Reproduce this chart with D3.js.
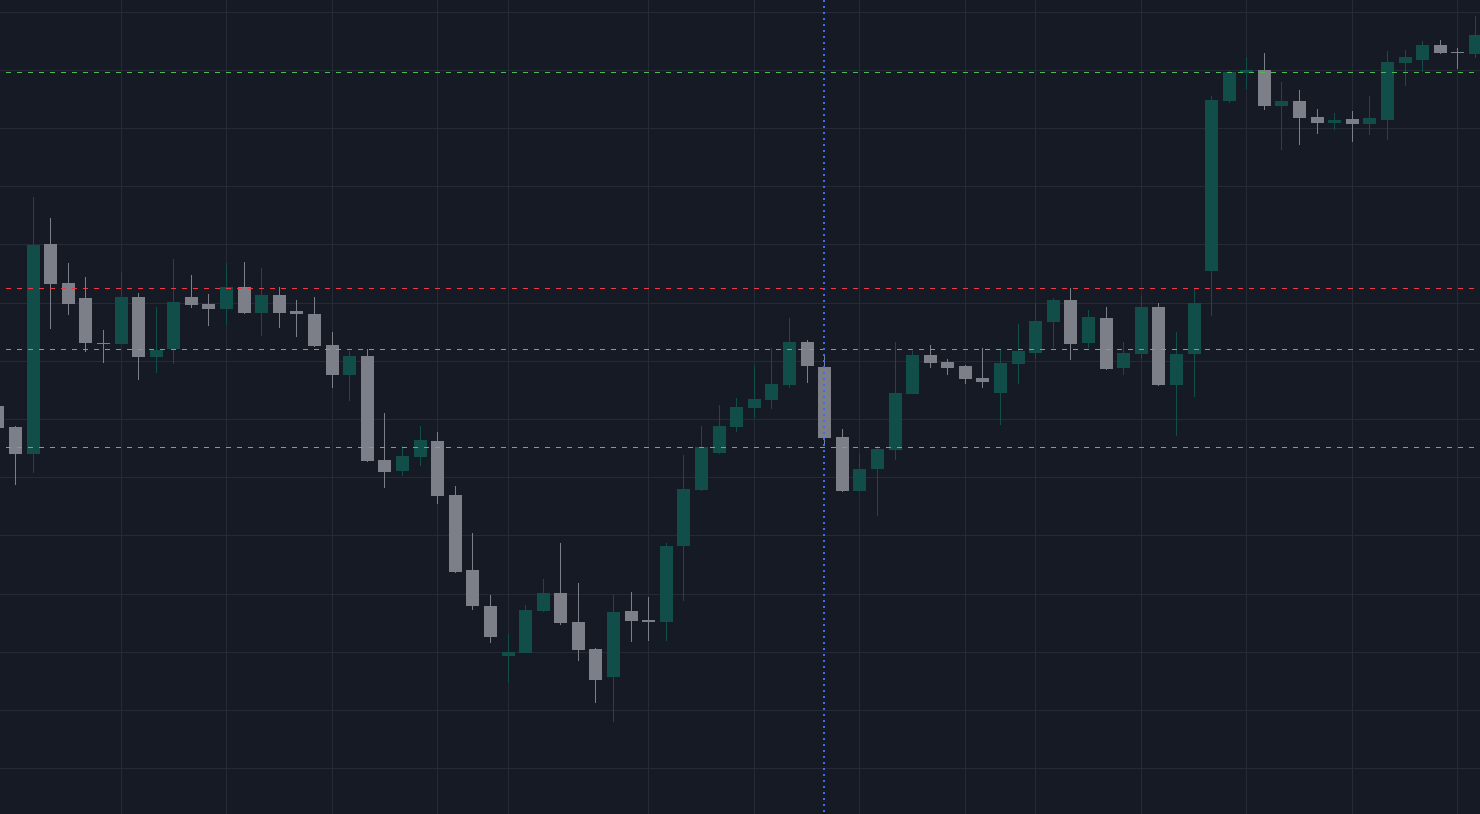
<!DOCTYPE html>
<html>
<head>
<meta charset="utf-8">
<script src="https://cdn.jsdelivr.net/npm/d3@7"></script>
<style>
  html, body { margin: 0; padding: 0; background: #161a25; overflow: hidden; }
  svg { display: block; }
</style>
</head>
<body>
<div id="chart"></div>
<script>
// one entry per candle, left to right (first candle is cut off by the left edge)
const open = [
  1062.3, 1058.7, 1054.1, 1090.1, 1083.4, 1080.9, 1073.1, 1073.0, 1081.0, 1070.7,
  1072.1, 1081.0, 1079.8, 1079.0, 1082.8, 1078.3, 1081.4, 1078.6, 1078.1, 1072.8,
  1067.6, 1070.9, 1053.0, 1051.1, 1053.5, 1056.3, 1047.0, 1034.1, 1027.9, 1019.3,
  1019.9, 1027.1, 1030.2, 1025.2, 1020.6, 1015.7, 1027.1, 1025.5, 1025.2, 1038.2,
  1047.9, 1054.2, 1058.7, 1062.0, 1063.3, 1065.9, 1073.3, 1069.0, 1057.0, 1047.7,
  1051.5, 1054.7, 1064.4, 1071.1, 1069.9, 1069.2, 1067.1, 1064.5, 1069.5, 1071.4,
  1076.7, 1080.5, 1073.1, 1077.4, 1068.8, 1071.2, 1079.3, 1065.9, 1071.2, 1085.5,
  1114.7, 1119.5, 1120.0, 1113.9, 1114.7, 1112.0, 1110.9, 1111.6, 1110.8, 1111.5,
  1121.2, 1121.8, 1124.3, 1123.1, 1122.8
];
const high = [
  1062.7, 1058.9, 1098.2, 1094.6, 1086.9, 1084.5, 1075.4, 1085.3, 1081.7, 1079.3,
  1087.6, 1084.8, 1081.6, 1086.9, 1087.1, 1086.0, 1082.8, 1080.5, 1081.0, 1075.0,
  1071.8, 1072.1, 1061.1, 1055.4, 1058.9, 1057.8, 1048.6, 1040.5, 1029.8, 1023.1,
  1028.1, 1032.6, 1038.8, 1031.9, 1020.7, 1029.8, 1030.3, 1029.5, 1038.8, 1053.9,
  1058.9, 1062.5, 1063.7, 1069.2, 1072.3, 1077.4, 1073.6, 1071.1, 1058.4, 1054.1,
  1055.4, 1073.3, 1071.8, 1072.8, 1070.4, 1069.3, 1072.3, 1072.1, 1076.4, 1080.0,
  1080.9, 1082.6, 1078.8, 1079.3, 1073.3, 1081.2, 1080.0, 1075.0, 1082.6, 1115.6,
  1119.9, 1122.3, 1123.0, 1118.0, 1116.6, 1113.3, 1112.7, 1113.0, 1115.6, 1123.3,
  1123.5, 1125.0, 1125.2, 1123.8, 1129.3
];
const low = [
  1058.2, 1048.7, 1050.8, 1075.5, 1077.9, 1071.6, 1069.7, 1072.9, 1066.8, 1068.0,
  1069.5, 1079.1, 1076.1, 1076.2, 1078.1, 1074.3, 1075.7, 1074.2, 1072.4, 1065.4,
  1063.2, 1052.7, 1048.2, 1050.3, 1052.0, 1045.5, 1033.6, 1027.2, 1021.6, 1014.7,
  1019.8, 1026.9, 1024.7, 1018.5, 1011.3, 1008.0, 1021.7, 1021.9, 1021.9, 1028.8,
  1047.8, 1054.1, 1057.8, 1060.2, 1061.8, 1065.4, 1066.3, 1055.8, 1047.6, 1047.6,
  1043.4, 1053.0, 1064.3, 1068.8, 1067.6, 1066.1, 1065.4, 1059.0, 1066.1, 1070.4,
  1072.3, 1070.2, 1072.3, 1068.5, 1067.6, 1070.4, 1065.8, 1057.1, 1063.8, 1077.8,
  1114.4, 1116.8, 1113.2, 1106.3, 1107.2, 1109.0, 1109.7, 1107.7, 1108.9, 1108.0,
  1117.3, 1119.7, 1122.8, 1120.2, 1122.1
];
const close = [
  1058.5, 1054.1, 1090.0, 1083.3, 1079.8, 1073.1, 1073.0, 1081.0, 1070.7, 1071.9,
  1080.2, 1079.7, 1079.0, 1082.8, 1078.3, 1081.4, 1078.3, 1078.1, 1072.6, 1067.6,
  1070.9, 1052.9, 1051.0, 1053.7, 1056.5, 1046.8, 1033.8, 1027.9, 1022.6, 1020.0,
  1027.2, 1030.2, 1025.0, 1020.4, 1015.2, 1026.9, 1025.4, 1025.2, 1038.2, 1048.0,
  1055.3, 1058.9, 1062.1, 1063.5, 1066.1, 1073.3, 1069.2, 1056.8, 1047.7, 1051.5,
  1054.9, 1064.5, 1071.1, 1069.7, 1068.8, 1066.9, 1066.4, 1069.7, 1071.8, 1076.9,
  1080.5, 1073.0, 1077.6, 1068.7, 1071.4, 1079.3, 1065.9, 1071.2, 1080.0, 1114.9,
  1119.7, 1120.0, 1113.9, 1114.7, 1111.8, 1110.9, 1111.5, 1110.8, 1111.8, 1121.4,
  1122.3, 1124.3, 1123.0, 1123.0, 1126.1
];

// price grid and the candles that carry a time grid line
const gridPrices = [1000, 1010, 1020, 1030, 1040, 1050, 1060, 1070, 1080, 1090, 1100, 1110, 1120, 1130];
const gridBars = [7, 13, 19, 25, 29, 37, 43, 49, 55, 59, 65, 71, 77, 83];

// horizontal levels and the crosshair bar
const levelPrices = [1119.6, 1082.5, 1072.0, 1055.2];
const levelColors = ["#4cbb55", "#f23645", "#e2707c", "#e2707c"];
const crosshairBar = 47;

const width = 1480;
const height = 814;

const candles = open.map((o, i) => ({ i, o, h: high[i], l: low[i], c: close[i] }));

const svg = d3.select("#chart")
  .append("svg")
  .attr("width", width)
  .attr("height", height);

svg.append("rect")
  .attr("width", width)
  .attr("height", height)
  .attr("fill", "#161a25");

const xScale = d3.scaleBand()
  .domain(d3.range(candles.length))
  .range([-10.885, -10.885 + candles.length * 17.59])
  .paddingInner(0.26)
  .paddingOuter(0.13);

const yScale = d3.scaleLinear()
  .domain([992.22, 1132.08])
  .range([height, 0]);

const cx = i => xScale(i) + xScale.bandwidth() / 2;

// grid
svg.append("g")
  .selectAll("line")
  .data(gridPrices)
  .enter()
  .append("line")
  .attr("x1", 0)
  .attr("x2", width)
  .attr("y1", p => Math.floor(yScale(p)) + 0.5)
  .attr("y2", p => Math.floor(yScale(p)) + 0.5)
  .attr("stroke", "#262a36")
  .attr("stroke-width", 1);

svg.append("g")
  .selectAll("line")
  .data(gridBars)
  .enter()
  .append("line")
  .attr("x1", i => Math.floor(cx(i)) + 0.5)
  .attr("x2", i => Math.floor(cx(i)) + 0.5)
  .attr("y1", 0)
  .attr("y2", height)
  .attr("stroke", "#262a36")
  .attr("stroke-width", 1);

// candles
const up = d => d.c >= d.o;
const colour = d => up(d) ? "#114e4a" : "#7c7f87";

const g = svg.append("g");

g.selectAll(".wick")
  .data(candles)
  .enter()
  .append("line")
  .attr("class", "wick")
  .attr("x1", d => Math.floor(cx(d.i)) + 0.5)
  .attr("x2", d => Math.floor(cx(d.i)) + 0.5)
  .attr("y1", d => Math.round(yScale(d.h)))
  .attr("y2", d => Math.round(yScale(d.l)))
  .attr("stroke", colour)
  .attr("stroke-width", 1);

g.selectAll(".body")
  .data(candles)
  .enter()
  .append("rect")
  .attr("class", "body")
  .attr("x", d => Math.round(cx(d.i) - 6.5))
  .attr("width", 13)
  .attr("y", d => Math.round(yScale(Math.max(d.o, d.c))))
  .attr("height", d => Math.max(1, Math.round(yScale(Math.min(d.o, d.c))) - Math.round(yScale(Math.max(d.o, d.c)))))
  .attr("fill", colour);

// dashed levels
svg.append("g")
  .selectAll("line")
  .data(levelPrices)
  .enter()
  .append("line")
  .attr("x1", 6)
  .attr("x2", width)
  .attr("y1", p => Math.floor(yScale(p)) + 0.5)
  .attr("y2", p => Math.floor(yScale(p)) + 0.5)
  .attr("stroke", (p, i) => levelColors[i])
  .attr("stroke-width", 1)
  .attr("stroke-dasharray", "5,6");

// crosshair
svg.append("line")
  .attr("x1", Math.floor(cx(crosshairBar)))
  .attr("x2", Math.floor(cx(crosshairBar)))
  .attr("y1", 0)
  .attr("y2", height)
  .attr("stroke", "#3b6ef5")
  .attr("stroke-width", 2)
  .attr("stroke-dasharray", "2,4");
</script>
</body>
</html>
